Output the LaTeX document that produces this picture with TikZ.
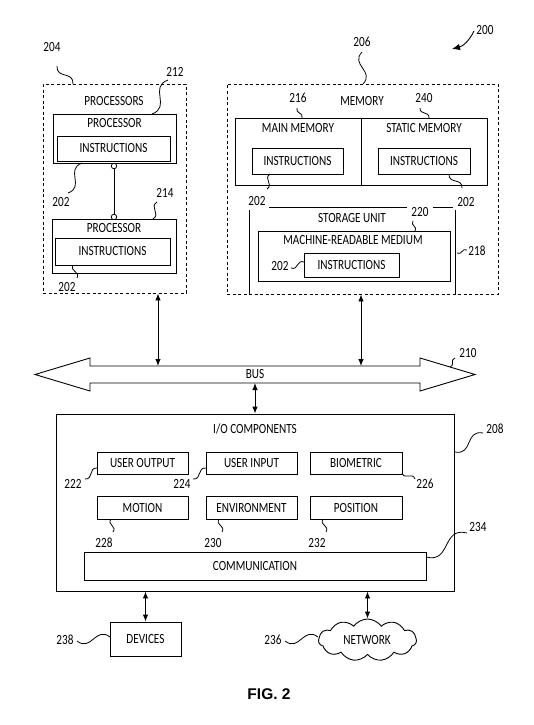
\documentclass[tikz,border=0pt]{standalone}
\usepackage{fontspec}
\setmainfont{Carlito}[FakeStretch=0.8]
\newfontfamily\figfont{Liberation Sans}
\usetikzlibrary{arrows.meta,shapes.symbols,calc}
\newcommand\leader[3]{\path (#2) coordinate (#1-s) (#3) coordinate (#1-e);
  \draw[lead] (#1-s) .. controls ($(#1-s)!0.55!-45:(#1-e)$) and ($(#1-e)!0.55!-45:(#1-s)$) .. (#1-e);}
\begin{document}
\begin{tikzpicture}[x=1pt,y=-1pt,
  box/.style 2 args={draw,line width=0.9pt,inner sep=0pt,minimum width=#1pt,minimum height=#2pt,fill=white},
  dbox/.style 2 args={draw,line width=0.9pt,dash pattern=on 3pt off 2.5pt,inner sep=0pt,minimum width=#1pt,minimum height=#2pt},
  txt/.style={inner sep=0pt,font=\fontsize{14}{16}\selectfont},
  lead/.style={line width=0.8pt},
  arr/.style={line width=0.9pt,{Latex[length=7pt,width=5.5pt]}-{Latex[length=7pt,width=5.5pt]}},
  dot/.style={draw,circle,fill=white,inner sep=0pt,minimum size=5.5pt,line width=0.8pt}]
\useasboundingbox (0,0) rectangle (534,725);

% processors
\node[dbox={143}{209}] (procs) at (114.5,188.5) {};
\node[txt] (tprocs) at (114,101) {PROCESSORS};
\node[box={123}{49}] (p1) at (114.5,138.5) {};
\node[txt] (tp1) at (114.5,123) {PROCESSOR};
\node[box={113}{25}] (i1) at (113.5,148.5) {};
\node[txt] at (i1) {INSTRUCTIONS};
\node[box={124}{54}] (p2) at (114,246) {};
\node[txt] (tp2) at (114,228) {PROCESSOR};
\node[box={115}{27}] (i2) at (112.5,251.5) {};
\node[txt] at (i2) {INSTRUCTIONS};
\node[dot] (c1) at (114,166) {};
\node[dot] (c2) at (114,217) {};
\draw[line width=0.8pt] (c1) -- (c2);

% memory
\node[dbox={271}{210}] (mem) at (362.5,189) {};
\node[txt] (tmem) at (362,101) {MEMORY};
\node[box={126}{67}] (mm) at (298,151.5) {};
\node[box={126}{67}] (sm) at (424,151.5) {};
\node[txt] at (298,128.5) {MAIN MEMORY};
\node[txt] at (424,128.5) {STATIC MEMORY};
\node[box={91}{26}] (i3) at (297.5,161) {};
\node[txt] at (i3) {INSTRUCTIONS};
\node[box={92}{26}] (i4) at (424,161) {};
\node[txt] at (i4) {INSTRUCTIONS};
\draw[line width=0.9pt] (249,210) -- (249,294);
\draw[line width=0.9pt] (269,207) -- (407,207);
\draw[line width=0.9pt] (433,207) -- (453,207);
\draw[line width=0.9pt] (455,210) -- (455,294);
\node[txt] (tsu) at (352,218) {STORAGE UNIT};
\node[box={192}{50}] (mrm) at (354,256) {};
\node[txt] at (353,240) {MACHINE-READABLE MEDIUM};
\node[box={95}{24}] (i5) at (351.5,265) {};
\node[txt] at (i5) {INSTRUCTIONS};

% bus
\draw[line width=0.9pt,fill=white] (35,374.5) -- (90,358) -- (90,366) -- (420,366) -- (420,358) -- (475,374.5) -- (420,391) -- (420,383) -- (90,383) -- (90,391) -- cycle;
\node[txt] (tbus) at (255,374.5) {BUS};
\coordinate (pbus) at (158,366);
\coordinate (mbus) at (361,366);
\coordinate (iobus) at (255,383);

% I/O
\node[box={398}{177}] (io) at (255,502.5) {};
\node[txt] at (255,429) {I/O COMPONENTS};
\node[box={91}{22}] (uo) at (142.5,463) {};
\node[txt] at (uo) {USER OUTPUT};
\node[box={91}{22}] (ui) at (251.5,463) {};
\node[txt] at (ui) {USER INPUT};
\node[box={92}{22}] (bio) at (356,463) {};
\node[txt] at (bio) {BIOMETRIC};
\node[box={91}{23}] (mot) at (142.5,508) {};
\node[txt] at (mot) {MOTION};
\node[box={91}{23}] (env) at (251.5,508) {};
\node[txt] at (env) {ENVIRONMENT};
\node[box={92}{23}] (pos) at (356,508) {};
\node[txt] at (pos) {POSITION};
\node[box={342}{28}] (com) at (255,566) {};
\node[txt] at (com) {COMMUNICATION};

\node[box={71}{34}] (dev) at (145.5,639) {};
\node[txt] at (dev) {DEVICES};
\node[draw,line width=0.9pt,cloud,cloud puffs=11,cloud puff arc=110,aspect=2.4,inner sep=0pt,minimum width=98pt,minimum height=42pt] (net) at (367.5,640) {};
\node[txt] at (367,640) {NETWORK};

% arrows
\draw[arr] (procs.south -| pbus) -- (pbus);
\draw[arr] (mem.south -| mbus) -- (mbus);
\draw[arr] (iobus) -- (io.north -| iobus);
\draw[arr] (io.south -| dev.north) -- (dev.north);
\draw[arr] (io.south -| net.north) -- (net.north);

% reference numerals
\node[txt] at (52,47) {204};
\node[txt] at (175,72) {212};
\node[txt] at (61,202) {202};
\node[txt] at (165,193) {214};
\node[txt] at (67,287) {202};
\node[txt] at (362,42) {206};
\node[txt] at (298,98) {216};
\node[txt] at (424,98) {240};
\node[txt] at (257,201) {202};
\node[txt] at (466,202) {202};
\node[txt] at (420,212.5) {220};
\node[txt] at (280,266) {202};
\node[txt] at (477,251) {218};
\node[txt] (t200) at (485,30) {200};
\node[txt] at (468,353) {210};
\node[txt] at (495,429) {208};
\node[txt] at (73,484) {222};
\node[txt] at (182,484) {224};
\node[txt] at (425,484) {226};
\node[txt] at (104,543) {228};
\node[txt] at (213,543) {230};
\node[txt] at (317,543) {232};
\node[txt] at (478,527) {234};
\node[txt] at (65,640) {238};
\node[txt] at (273,640) {236};
\node[inner sep=0pt,font=\figfont\bfseries\fontsize{15.5}{18}\selectfont] at (269,694) {FIG. 2};

\leader{L204}{57,66}{73,84}
\leader{L212}{168,80}{152,114}
\leader{L202a}{68,193}{82,163}
\leader{L214}{157,202}{153,219}
\leader{L202b}{77,278}{73,265}
\leader{L206}{362,52}{363,84}
\leader{L216}{297,108}{302,118}
\leader{L240}{420,108}{429,118}
\leader{L202c}{267,189}{270,174}
\leader{L202d}{462,188}{449,174}
\leader{L220}{413,221}{415,231}
\leader{L202e}{291,268}{304,262}
\leader{L218}{457,253}{467,250}
\leader{L210}{450,367}{455,358}
\leader{L208}{455,452}{483,433}
\leader{L222}{85,479}{97,468}
\leader{L224}{193,479}{206,468}
\leader{L226}{402,473}{415,479}
\leader{L228}{111,519}{113,532}
\leader{L230}{219,519}{222,532}
\leader{L232}{323,519}{326,532}
\leader{L234}{426,557}{467,533}
\leader{L238}{77,641}{110,637}
\leader{L236}{285,641}{318,637}

\coordinate (a200) at (474,31);
\coordinate (h200) at (452,49);
\draw[line width=0.9pt,-{Latex[length=8pt,width=6.5pt]}] (a200) to[bend left=25] (h200);
\end{tikzpicture}
\end{document}
